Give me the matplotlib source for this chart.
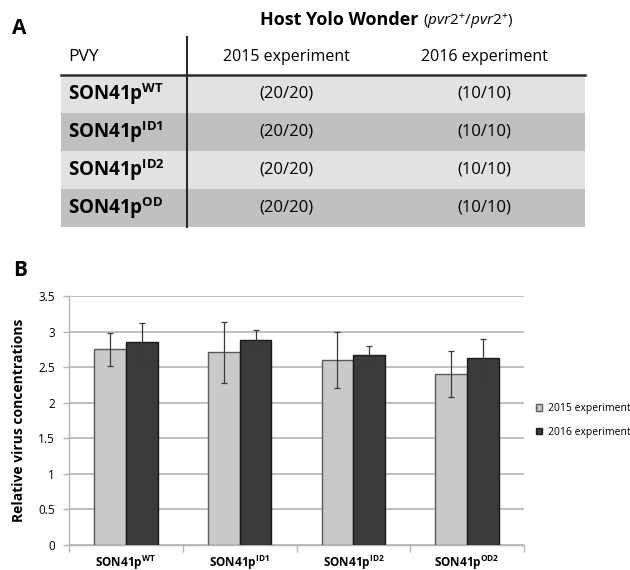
import numpy as np
import matplotlib
matplotlib.use("Agg")
import matplotlib.pyplot as plt
from matplotlib.patches import Rectangle

plt.rcParams['font.family'] = ['Open Sans', 'DejaVu Sans']
plt.rcParams['mathtext.fontset'] = 'custom'
plt.rcParams['mathtext.rm'] = 'Open Sans'
plt.rcParams['mathtext.bf'] = 'Open Sans:bold'
plt.rcParams['mathtext.it'] = 'Open Sans:italic'

# panel A table
table_strains = ['WT', 'ID1', 'ID2', 'OD']
table_2015 = ['(20/20)', '(20/20)', '(20/20)', '(20/20)']
table_2016 = ['(10/10)', '(10/10)', '(10/10)', '(10/10)']
col_headers = ['2015 experiment', '2016 experiment']

# panel B chart
chart_strains = ['WT', 'ID1', 'ID2', 'OD2']
mean_2015 = [2.75, 2.71, 2.60, 2.40]
err_2015 = [0.23, 0.43, 0.39, 0.32]
mean_2016 = [2.86, 2.88, 2.67, 2.63]
err_2016 = [0.26, 0.14, 0.13, 0.26]
series_names = ['2015 experiment', '2016 experiment']

fig = plt.figure(figsize=(6.3, 5.7), dpi=100)

# overlay axes in pixel coordinates for panel A
axA = fig.add_axes([0, 0, 1, 1])
axA.set_xlim(0, 630)
axA.set_ylim(570, 0)
axA.axis('off')

axA.text(19, 29, 'A', fontsize=15, fontweight='bold', ha='center', va='center')
axA.text(419, 20, 'Host Yolo Wonder', fontsize=13, fontweight='bold',
         ha='right', va='center')
axA.text(423, 21, r'$(\mathit{pvr2^{+}/pvr2^{+}})$', fontsize=11,
         ha='left', va='center')

left, right, vline = 61, 585, 187
top_row, row_h = 75, 38
col_x = [286, 484]

axA.text(68, 57, 'PVY', fontsize=12.5, ha='left', va='center')
for cx, h in zip(col_x, col_headers):
    axA.text(cx, 57, h, fontsize=11.5, ha='center', va='center')

for i, s in enumerate(table_strains):
    y0 = top_row + i * row_h
    shade = '#e2e2e2' if i % 2 == 0 else '#c0c0c0'
    axA.add_patch(Rectangle((left, y0), right - left, row_h,
                            facecolor=shade, edgecolor='none'))
    yc = y0 + row_h / 2
    axA.text(68, yc, r'$\mathbf{SON41p}^{\mathbf{%s}}$' % s, fontsize=13.5,
             ha='left', va='center')
    axA.text(col_x[0], yc, table_2015[i], fontsize=12, ha='center', va='center')
    axA.text(col_x[1], yc, table_2016[i], fontsize=12, ha='center', va='center')

axA.plot([left, right], [top_row, top_row], color='#2a2a2a', lw=1.8)
axA.plot([vline, vline], [37, top_row + 4 * row_h], color='#2a2a2a', lw=1.5)

axA.text(20, 270, 'B', fontsize=15, fontweight='bold', ha='center', va='center')

# panel B bar chart
ax = fig.add_axes([69 / 630, 1 - 545 / 570, 455 / 630, 249 / 570])
x = np.arange(len(chart_strains))
w = 0.28
ax.bar(x - w / 2, mean_2015, w, color='#c9c9c9', edgecolor='#5a5a5a', lw=1,
       label=series_names[0], zorder=3)
ax.bar(x + w / 2, mean_2016, w, color='#3b3b3b', edgecolor='#1a1a1a', lw=1,
       label=series_names[1], zorder=3)
ax.errorbar(x - w / 2, mean_2015, yerr=err_2015, fmt='none', ecolor='#3a3a3a',
            elinewidth=0.9, capsize=2.5, capthick=0.9, zorder=4)
ax.errorbar(x + w / 2, mean_2016, yerr=err_2016, fmt='none', ecolor='#3a3a3a',
            elinewidth=0.9, capsize=2.5, capthick=0.9, zorder=4)

ax.set_xlim(-0.5, len(chart_strains) - 0.5)
ax.set_ylim(0, 3.5)
ax.set_yticks(np.arange(0, 3.51, 0.5))
ax.set_yticklabels(['0', '0.5', '1', '1.5', '2', '2.5', '3', '3.5'])
ax.yaxis.grid(True, color='#b5b5b5', lw=1.2, zorder=0)
ax.set_axisbelow(True)

ax.set_xticks(x)
ax.set_xticklabels([r'$\mathbf{SON41p}^{\mathbf{%s}}$' % s for s in chart_strains],
                   fontsize=8.5)
ax.set_xticks(np.arange(-0.5, len(chart_strains)), minor=True)
ax.tick_params(axis='x', which='major', length=0, pad=6)
ax.tick_params(axis='x', which='minor', length=5, color='#b5b5b5', width=1)
ax.tick_params(axis='y', length=4, color='#b5b5b5', width=1, labelsize=8.5,
               pad=6)

for sp in ['top', 'right']:
    ax.spines[sp].set_visible(False)
ax.spines['left'].set_color('#b5b5b5')
ax.spines['bottom'].set_color('#b5b5b5')
ax.spines['left'].set_linewidth(1)
ax.spines['bottom'].set_linewidth(1)

ax.set_ylabel('Relative virus concentrations', fontsize=10, fontweight='bold',
              labelpad=9)

ax.legend(loc='center left', bbox_to_anchor=(536 / 630, 1 - 420.5 / 570),
          bbox_transform=fig.transFigure, frameon=False, fontsize=7.5,
          handlelength=0.6, handleheight=0.6, handletextpad=0.6,
          labelspacing=1.2, borderpad=0, borderaxespad=0)

fig.savefig('out.png', dpi=100)
